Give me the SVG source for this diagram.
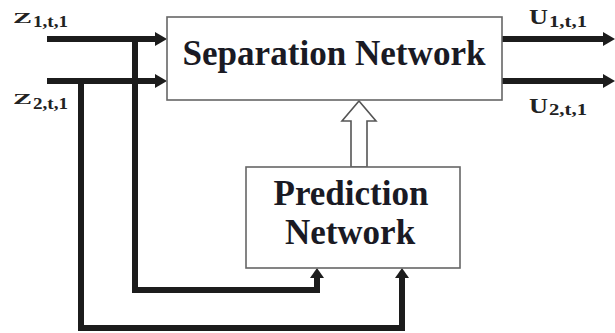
<svg xmlns="http://www.w3.org/2000/svg" width="615" height="333" viewBox="0 0 615 333">
<style>
.box{fill:#fff;stroke:#666;stroke-width:1.6}
.title{font-family:"Liberation Serif","Times New Roman",serif;font-weight:bold;fill:#1a1a24;font-size:35px}
.lbl{font-family:"Liberation Serif","Times New Roman",serif;font-weight:bold;fill:#222}
.wire{fill:none;stroke:#1c1c1c;stroke-width:6;stroke-linejoin:miter}
</style>
<defs>
<marker id="ah" viewBox="0 0 12 14" refX="0" refY="7" markerWidth="12" markerHeight="14" markerUnits="userSpaceOnUse" orient="auto">
<path d="M0,0 L12,7 L0,14 z" fill="#1c1c1c"/>
</marker>
<marker id="ahs" viewBox="0 0 10 14" refX="0" refY="7" markerWidth="10" markerHeight="14" markerUnits="userSpaceOnUse" orient="auto">
<path d="M0,0 L10,7 L0,14 z" fill="#1c1c1c"/>
</marker>
</defs>
<rect width="615" height="333" fill="#fff"/>
<g id="connectors">
<path class="wire" d="M47,39 H155" marker-end="url(#ah)"/>
<path class="wire" d="M47,81 H155" marker-end="url(#ah)"/>
<path class="wire" d="M502,39 H603" marker-end="url(#ah)"/>
<path class="wire" d="M502,81 H603" marker-end="url(#ah)"/>
<path class="wire" d="M135,39 V290 H317 V278" marker-end="url(#ahs)"/>
<path class="wire" d="M81,81 V328 H402 V278" marker-end="url(#ahs)"/>
<polygon points="351,167 351,121 342,121 359,101 376,121 367,121 367,167" fill="#fff" stroke="#555" stroke-width="1.6"/>
</g>
<g id="separation">
<rect class="box" x="167" y="17" width="335" height="83"/>
<text class="title" x="334" y="65" text-anchor="middle" textLength="303" lengthAdjust="spacingAndGlyphs">Separation Network</text>
</g>
<g id="prediction">
<rect class="box" x="246" y="167" width="214" height="101"/>
<text class="title" x="351" y="205" text-anchor="middle">Prediction</text>
<text class="title" x="350" y="244" text-anchor="middle">Network</text>
</g>
<g id="labels">
<text class="lbl" x="13" y="23" font-size="15" textLength="19" lengthAdjust="spacingAndGlyphs">Z</text>
<text class="lbl" x="33" y="27" font-size="16" textLength="35" lengthAdjust="spacingAndGlyphs">1,t,1</text>
<text class="lbl" x="13" y="104" font-size="15" textLength="19" lengthAdjust="spacingAndGlyphs">Z</text>
<text class="lbl" x="33" y="109" font-size="16" textLength="35" lengthAdjust="spacingAndGlyphs">2,t,1</text>
<text class="lbl" x="529" y="24" font-size="20" textLength="19" lengthAdjust="spacingAndGlyphs">U</text>
<text class="lbl" x="549" y="27" font-size="16" textLength="38" lengthAdjust="spacingAndGlyphs">1,t,1</text>
<text class="lbl" x="529" y="113" font-size="20" textLength="19" lengthAdjust="spacingAndGlyphs">U</text>
<text class="lbl" x="549" y="115" font-size="16" textLength="38" lengthAdjust="spacingAndGlyphs">2,t,1</text>
</g>
</svg>
